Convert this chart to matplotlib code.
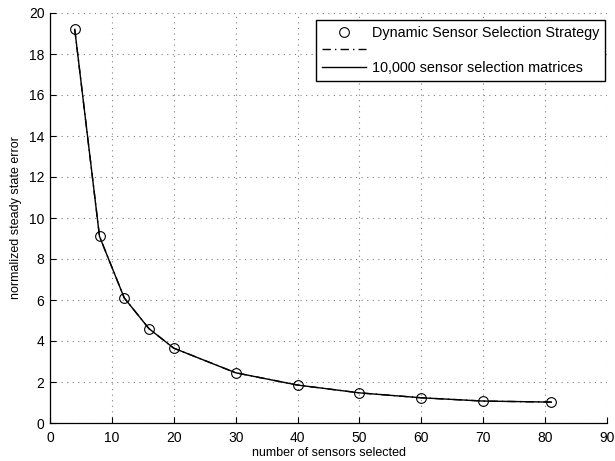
import matplotlib
matplotlib.use("Agg")
import matplotlib.pyplot as plt

sensors = [4, 8, 12, 16, 20, 30, 40, 50, 60, 70, 81]
dynamic_err = [19.2, 9.1, 6.1, 4.6, 3.65, 2.45, 1.85, 1.47, 1.23, 1.07, 1.02]
matrices_err = [19.2, 9.1, 6.1, 4.6, 3.65, 2.45, 1.85, 1.47, 1.23, 1.07, 1.02]
xticks = list(range(0, 91, 10))
yticks = list(range(0, 21, 2))

plt.rcParams['font.family'] = ['Liberation Sans', 'DejaVu Sans']
fig = plt.figure(figsize=(6.15, 4.61), dpi=100)
ax = fig.add_axes([50/615, 38/461, 557/615, 410/461])

ax.plot(sensors, dynamic_err, linestyle='none', marker='o', markersize=7,
        markerfacecolor='none', markeredgecolor='black', markeredgewidth=0.8,
        label='Dynamic Sensor Selection Strategy')
ax.plot(sensors, matrices_err, linestyle=(0, (6, 3, 1, 3)), color='black',
        linewidth=1.0, label=' ')
ax.plot(sensors, matrices_err, linestyle='-', color='black', linewidth=1.0,
        label='10,000 sensor selection matrices')

ax.set_xlim(0, 90)
ax.set_ylim(0, 20)
ax.set_xticks(xticks)
ax.set_yticks(yticks)
ax.tick_params(direction='in', labelsize=10, length=4, width=0.8)
ax.tick_params(axis='x', pad=6)
ax.tick_params(axis='y', pad=4)
ax.grid(True, linestyle=(0, (1, 4)), color='#808080', linewidth=0.8)
ax.spines['top'].set_visible(False)
ax.spines['right'].set_visible(False)
for s in ax.spines.values():
    s.set_linewidth(0.9)
ax.set_xlabel('number of sensors selected', fontsize=9, labelpad=1.5)
ax.set_ylabel('normalized steady state error', fontsize=9, labelpad=5)

leg = ax.legend(loc='upper right', fontsize=10.4, fancybox=False, framealpha=1,
                edgecolor='black', borderaxespad=0.0, handlelength=3.05,
                handletextpad=0.42, labelspacing=0.25, borderpad=0.4)
leg.get_frame().set_linewidth(1.0)
ax_bb = ax.get_window_extent()
leg.set_bbox_to_anchor(((605 - ax_bb.x0) / ax_bb.width, (441 - ax_bb.y0) / ax_bb.height),
                       transform=ax.transAxes)

fig.savefig('out.png', dpi=100)
